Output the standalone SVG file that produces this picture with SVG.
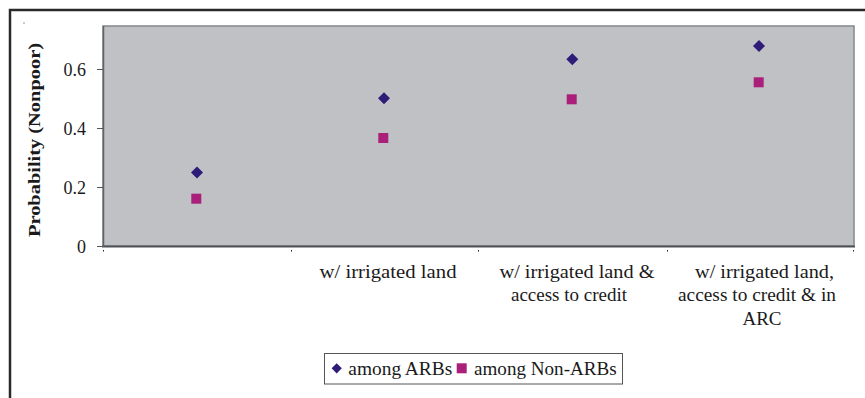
<svg xmlns="http://www.w3.org/2000/svg" width="865" height="398" viewBox="0 0 865 398">
<style>
  .t { font-family: "Liberation Serif", "Times New Roman", serif; font-size: 18px; fill: #1a1a1a; }
  .ax { font-family: "Liberation Serif", "Times New Roman", serif; font-size: 17px; font-weight: bold; fill: #1a1a1a; }
  .arb { fill: #2E1C78; }
  .non { fill: #A91F7A; }
</style>
<defs>
  <path id="dia" d="M0,-6 L6,0 L0,6 L-6,0 Z"/>
  <rect id="sq" x="-5" y="-5" width="10" height="10"/>
</defs>
<rect width="865" height="398" fill="#ffffff"/>
<!-- outer frame -->
<path d="M10,420 L10,10 L880,10" fill="none" stroke="#2a2a2a" stroke-width="2.5"/>
<rect x="23.5" y="22.5" width="1" height="1" fill="#333"/>
<!-- plot area -->
<g id="plot">
  <rect x="103" y="26" width="751" height="220" fill="#C0C1C5" stroke="#85878B" stroke-width="1.5"/>
  <line x1="102" y1="246.5" x2="855" y2="246.5" stroke="#505256" stroke-width="2"/>
  <line x1="103.5" y1="26" x2="103.5" y2="247" stroke="#606266" stroke-width="1.5"/>
</g>
<!-- y axis ticks and labels -->
<g id="yaxis">
  <line x1="97" y1="69.5" x2="103" y2="69.5" stroke="#555" stroke-width="1"/>
  <line x1="97" y1="128.5" x2="103" y2="128.5" stroke="#555" stroke-width="1"/>
  <line x1="97" y1="187.5" x2="103" y2="187.5" stroke="#555" stroke-width="1"/>
  <line x1="97" y1="246.5" x2="103" y2="246.5" stroke="#555" stroke-width="1"/>
  <text class="t" x="86" y="75.5" text-anchor="end">0.6</text>
  <text class="t" x="86" y="134.5" text-anchor="end">0.4</text>
  <text class="t" x="86" y="193.5" text-anchor="end">0.2</text>
  <text class="t" x="86" y="252.5" text-anchor="end">0</text>
  <text class="ax" transform="translate(40,140) rotate(-90)" text-anchor="middle" textLength="194" lengthAdjust="spacingAndGlyphs">Probability (Nonpoor)</text>
</g>
<!-- x category tick dots -->
<g id="xticks" fill="#222">
  <rect x="103" y="250" width="1" height="1.5"/>
  <rect x="291" y="250" width="1" height="1.5"/>
  <rect x="478" y="250" width="1" height="1.5"/>
  <rect x="667" y="250" width="1" height="1.5"/>
  <rect x="853" y="250" width="1" height="1.5"/>
</g>
<!-- x labels -->
<g id="xlabels">
  <text class="t" x="388" y="278" text-anchor="middle" textLength="137" lengthAdjust="spacingAndGlyphs">w/ irrigated land</text>
  <text class="t" x="577" y="278" text-anchor="middle" textLength="155" lengthAdjust="spacingAndGlyphs">w/ irrigated land &amp;</text>
  <text class="t" x="569" y="301" text-anchor="middle" textLength="116" lengthAdjust="spacingAndGlyphs">access to credit</text>
  <text class="t" x="764.5" y="278" text-anchor="middle" textLength="139" lengthAdjust="spacingAndGlyphs">w/ irrigated land,</text>
  <text class="t" x="757" y="301" text-anchor="middle" textLength="158" lengthAdjust="spacingAndGlyphs">access to credit &amp; in</text>
  <text class="t" x="762" y="325" text-anchor="middle" textLength="39" lengthAdjust="spacingAndGlyphs">ARC</text>
</g>
<!-- data points -->
<g id="series-arbs" class="arb">
  <use href="#dia" x="197" y="172.5"/>
  <use href="#dia" x="384" y="98.3"/>
  <use href="#dia" x="572.3" y="59.3"/>
  <use href="#dia" x="759" y="46"/>
</g>
<g id="series-nonarbs" class="non">
  <use href="#sq" x="196.3" y="198.7"/>
  <use href="#sq" x="383.3" y="138"/>
  <use href="#sq" x="571.7" y="99.3"/>
  <use href="#sq" x="758.7" y="82.3"/>
</g>
<!-- legend -->
<g id="legend">
  <rect x="324.5" y="353.5" width="298" height="30.5" fill="#ffffff" stroke="#555" stroke-width="1"/>
  <use href="#dia" class="arb" x="336.7" y="368.3" transform="translate(336.7,368.3) scale(0.85) translate(-336.7,-368.3)"/>
  <text class="t" x="348.3" y="374.5" textLength="104" lengthAdjust="spacingAndGlyphs">among ARBs</text>
  <rect x="456.7" y="363.3" width="10" height="10" class="non"/>
  <text class="t" x="474" y="374.5" textLength="142.7" lengthAdjust="spacingAndGlyphs">among Non-ARBs</text>
</g>
</svg>
